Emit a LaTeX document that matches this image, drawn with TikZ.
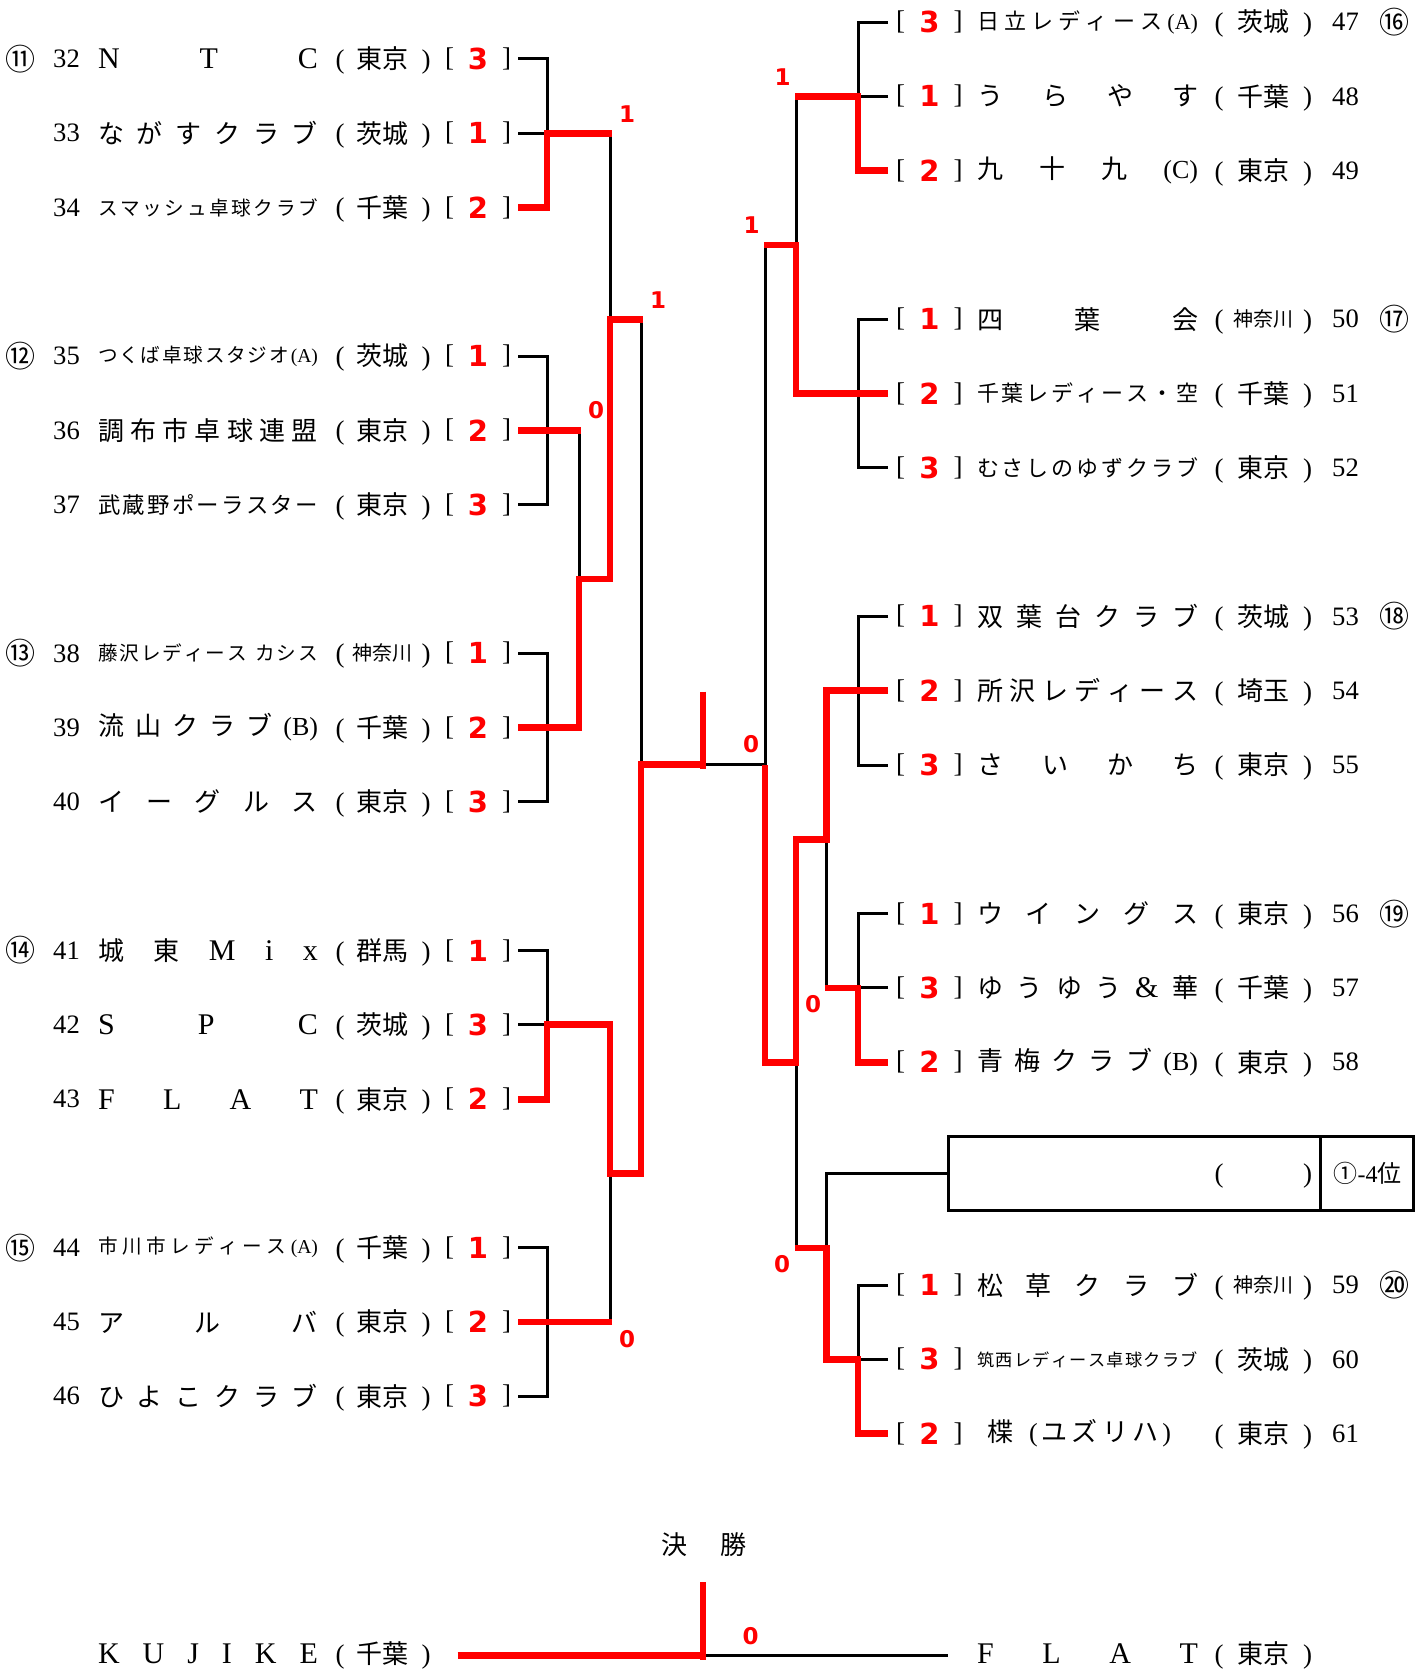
\documentclass[tikz,border=0pt]{standalone}
\usepackage{fontspec}
\setmainfont{Noto Sans CJK JP}
\newfontfamily\latf{Liberation Serif}
\newfontfamily\redf{DejaVu Sans}
\newcommand\fsz[1]{\fontsize{#1pt}{#1pt}\selectfont}
\makeatletter
\def\spreadit#1{\sp@first#1\relax}
\def\sp@first#1{{#1}\sp@rest}
\def\sp@rest#1{\ifx\relax#1\else\hfill{#1}\expandafter\sp@rest\fi}
\makeatother
\newcommand\NL[1]{\makebox[110pt][s]{\spreadit{#1}}}
\newcommand\NR[1]{\makebox[110.5pt][s]{\spreadit{#1}}}
\newcommand\Lrow[6]{%
 \node (num#1) at (66.5,#2) {\latf\fsz{13.3}#3};
 \node[anchor=west] (nm#1) at (98,#2) {\fsz{13}#4};
 \node (lp#1) at (340,#2+3) {\latf\fsz{13.5}(};
 \node (pf#1) at (382,#2) {\fsz{13}#5};
 \node (rp#1) at (426,#2+3) {\latf\fsz{13.5})};
 \node (lb#1) at (449.5,#2) {\latf\fsz{13.5}[};
 \node[rk] (rk#1) at (478,#2) {#6};
 \node (rb#1) at (506.5,#2) {\latf\fsz{13.5}]};
}
\newcommand\Rrow[6]{%
 \node (lb#1) at (900.5,#2) {\latf\fsz{13.5}[};
 \node[rk] (rk#1) at (929.5,#2) {#3};
 \node (rb#1) at (958,#2) {\latf\fsz{13.5}]};
 \node[anchor=west] (nm#1) at (977,#2) {\fsz{13}#4};
 \node (lp#1) at (1219,#2+3) {\latf\fsz{13.5}(};
 \node (pf#1) at (1263,#2) {\fsz{13}#5};
 \node (rp#1) at (1307.5,#2+3) {\latf\fsz{13.5})};
 \node (num#1) at (1345.5,#2) {\latf\fsz{13.3}#6};
}
\newcommand\LG[3]{\draw[bk] (518,#1)--(547,#1)--(547,#3)--(518,#3); \draw[bk] (518,#2)--(547,#2);}
\newcommand\RG[3]{\draw[bk] (888,#1)--(858,#1)--(858,#3)--(888,#3); \draw[bk] (888,#2)--(858,#2);}
\newcommand\LL[1]{{\latf\fsz{15}#1}}
\begin{document}
\begin{tikzpicture}[x=0.5pt,y=-0.5pt,
 every node/.style={inner sep=0pt,outer sep=0pt},
 bk/.style={line width=1.5pt,draw=black},
 rd/.style={line width=3.4pt,draw=red},
 rk/.style={text=red,font=\redf\bfseries\fsz{14.5}},
 sc/.style={text=red,font=\redf\bfseries\fsz{11.5}}]
\useasboundingbox (0,0) rectangle (1427,1670);

% ---------- left rows ----------
\node (c11) at (20,58.9) {\fsz{15}⑪};
\node (c12) at (20,356.1) {\fsz{15}⑫};
\node (c13) at (20,653.3) {\fsz{15}⑬};
\node (c14) at (20,950.5) {\fsz{15}⑭};
\node (c15) at (20,1247.7) {\fsz{15}⑮};
\Lrow{32}{58.9}{32}{\NL{{\LL{N}}{\LL{T}}{\LL{C}}}}{東京}{3}
\Lrow{33}{133.2}{33}{\NL{ながすクラブ}}{茨城}{1}
\Lrow{34}{207.5}{34}{\fsz{9.8}\NL{スマッシュ卓球クラブ}}{千葉}{2}
\Lrow{35}{356.1}{35}{\fsz{9.8}\NL{つくば卓球スタジオ{\latf(A)}}}{茨城}{1}
\Lrow{36}{430.4}{36}{\NL{調布市卓球連盟}}{東京}{2}
\Lrow{37}{504.7}{37}{\fsz{11.2}\NL{武蔵野ポーラスター}}{東京}{3}
\Lrow{38}{653.3}{38}{\fsz{9.8}\NL{藤沢レディース{\ }カシス}}{\fsz{10}神奈川}{1}
\Lrow{39}{727.6}{39}{\NL{流山クラブ{\latf(B)}}}{千葉}{2}
\Lrow{40}{801.9}{40}{\NL{イーグルス}}{東京}{3}
\Lrow{41}{950.5}{41}{\NL{城東{\LL{M}}{\LL{i}}{\LL{x}}}}{群馬}{1}
\Lrow{42}{1024.8}{42}{\NL{{\LL{S}}{\LL{P}}{\LL{C}}}}{茨城}{3}
\Lrow{43}{1099.1}{43}{\NL{{\LL{F}}{\LL{L}}{\LL{A}}{\LL{T}}}}{東京}{2}
\Lrow{44}{1247.7}{44}{\fsz{9.8}\NL{市川市レディース{\latf(A)}}}{千葉}{1}
\Lrow{45}{1322}{45}{\NL{アルバ}}{東京}{2}
\Lrow{46}{1396.3}{46}{\NL{ひよこクラブ}}{東京}{3}

% ---------- right rows ----------
\node (c16) at (1394.5,22) {\fsz{15}⑯};
\node (c17) at (1394.5,319.2) {\fsz{15}⑰};
\node (c18) at (1394.5,616.4) {\fsz{15}⑱};
\node (c19) at (1394.5,913.6) {\fsz{15}⑲};
\node (c20) at (1394.5,1285.1) {\fsz{15}⑳};
\Rrow{47}{22}{3}{\fsz{11}\NR{日立レディース{\latf(A)}}}{茨城}{47}
\Rrow{48}{96.3}{1}{\NR{うらやす}}{千葉}{48}
\Rrow{49}{170.6}{2}{\NR{九十九{\latf(C)}}}{東京}{49}
\Rrow{50}{319.2}{1}{\NR{四葉会}}{\fsz{10}神奈川}{50}
\Rrow{51}{393.5}{2}{\fsz{11}\NR{千葉レディース・空}}{千葉}{51}
\Rrow{52}{467.8}{3}{\fsz{11}\NR{むさしのゆずクラブ}}{東京}{52}
\Rrow{53}{616.4}{1}{\NR{双葉台クラブ}}{茨城}{53}
\Rrow{54}{690.7}{2}{\NR{所沢レディース}}{埼玉}{54}
\Rrow{55}{765}{3}{\NR{さいかち}}{東京}{55}
\Rrow{56}{913.6}{1}{\NR{ウイングス}}{東京}{56}
\Rrow{57}{987.9}{3}{\NR{ゆうゆう{\latf\fsz{15}\&}華}}{千葉}{57}
\Rrow{58}{1062.2}{2}{\NR{青梅クラブ{\latf(B)}}}{東京}{58}
\Rrow{59}{1285.1}{1}{\NR{松草クラブ}}{\fsz{10}神奈川}{59}
\Rrow{60}{1359.4}{3}{\fsz{8.6}\NR{筑西レディース卓球クラブ}}{茨城}{60}
\Rrow{61}{1433.7}{2}{\hspace*{5pt}楪\hspace{8pt}\makebox[71pt][s]{\spreadit{{\latf(}ユズリハ{\latf)}}}}{東京}{61}

% ---------- box ----------
\draw[bk] (948,1136.5) rectangle (1413,1210.5);
\draw[bk] (1320,1136.5) -- (1320,1210.5);
\node (blp) at (1219,1176) {\latf\fsz{13.5}(};
\node (brp) at (1307.5,1176) {\latf\fsz{13.5})};
\node (brank) at (1367.5,1173.5) {\fsz{12}①{\latf -4}位};

% ---------- final ----------
\node (ke) at (674.5,1545) {\fsz{13}決};
\node (sho) at (733.5,1545) {\fsz{13}勝};
\node[anchor=west] (nmK) at (98,1654) {\fsz{13}\NL{{\LL{K}}{\LL{U}}{\LL{J}}{\LL{I}}{\LL{K}}{\LL{E}}}};
\node (lpK) at (340,1657) {\latf\fsz{13.5}(};
\node (pfK) at (382,1654) {\fsz{13}千葉};
\node (rpK) at (426,1657) {\latf\fsz{13.5})};
\node[anchor=west] (nmF) at (977,1654) {\fsz{13}\NR{{\LL{F}}{\LL{L}}{\LL{A}}{\LL{T}}}};
\node (lpF) at (1219,1657) {\latf\fsz{13.5}(};
\node (pfF) at (1263,1654) {\fsz{13}東京};
\node (rpF) at (1307.5,1657) {\latf\fsz{13.5})};

% ---------- black lines ----------
\LG{58.9}{133.2}{207.5}
\LG{356.1}{430.4}{504.7}
\LG{653.3}{727.6}{801.9}
\LG{950.5}{1024.8}{1099.1}
\LG{1247.7}{1322}{1396.3}
\RG{22}{96.3}{170.6}
\RG{319.2}{393.5}{467.8}
\RG{616.4}{690.7}{765}
\RG{913.6}{987.9}{1062.2}
\RG{1285.1}{1359.4}{1433.7}
\draw[bk] (610,133.2) -- (610,319.2);
\draw[bk] (579,430.4) -- (579,579);
\draw[bk] (641,319.2) -- (641,764.5);
\draw[bk] (610,1322) -- (610,1173.4);
\draw[bk] (703,764.5) -- (765,764.5);
\draw[bk] (796,96.3) -- (796,244.9);
\draw[bk] (765,244.9) -- (765,764.5);
\draw[bk] (826.5,839.3) -- (826.5,987.9);
\draw[bk] (796,1062.2) -- (796,1247.95);
\draw[bk] (826.5,1247.95) -- (826.5,1173.65) -- (948,1173.65);
\draw[bk] (703,1655.7) -- (948,1655.7);

% ---------- red lines ----------
\draw[rd] (518,207.5) -- (547,207.5) -- (547,133.2) -- (611.5,133.2);
\draw[rd] (518,430.4) -- (580.5,430.4);
\draw[rd] (518,727.6) -- (579,727.6) -- (579,579) -- (610,579) -- (610,319.2) -- (642.5,319.2);
\draw[rd] (518,1099.1) -- (547,1099.1) -- (547,1024.8) -- (610,1024.8) -- (610,1173.4) -- (641,1173.4) -- (641,764.5) -- (703,764.5);
\draw[rd] (518,1322) -- (611.5,1322);
\draw[rd] (703,691.5) -- (703,769);
\draw[rd] (888,170.6) -- (858,170.6) -- (858,96.3) -- (794.5,96.3);
\draw[rd] (888,393.5) -- (796,393.5) -- (796,244.9) -- (763.5,244.9);
\draw[rd] (888,690.7) -- (826.5,690.7) -- (826.5,839.3) -- (796,839.3) -- (796,1062.2) -- (765,1062.2) -- (765,764.5);
\draw[rd] (888,1062.2) -- (858,1062.2) -- (858,987.9) -- (825,987.9);
\draw[rd] (888,1433.7) -- (858,1433.7) -- (858,1359.4) -- (826.5,1359.4) -- (826.5,1247.95) -- (794.5,1247.95);
\draw[rd] (457.5,1655.7) -- (703,1655.7);
\draw[rd] (703,1582) -- (703,1660);

% ---------- score labels ----------
\node[sc] (s1) at (627,114) {1};
\node[sc] (s2) at (658,300.4) {1};
\node[sc] (s3) at (596,410.2) {0};
\node[sc] (s4) at (627,1339) {0};
\node[sc] (s5) at (782.5,77) {1};
\node[sc] (s6) at (751.5,225.5) {1};
\node[sc] (s7) at (751,744.5) {0};
\node[sc] (s8) at (813,1004.5) {0};
\node[sc] (s9) at (782,1264) {0};
\node[sc] (s10) at (750.5,1636.5) {0};
\end{tikzpicture}
\end{document}
